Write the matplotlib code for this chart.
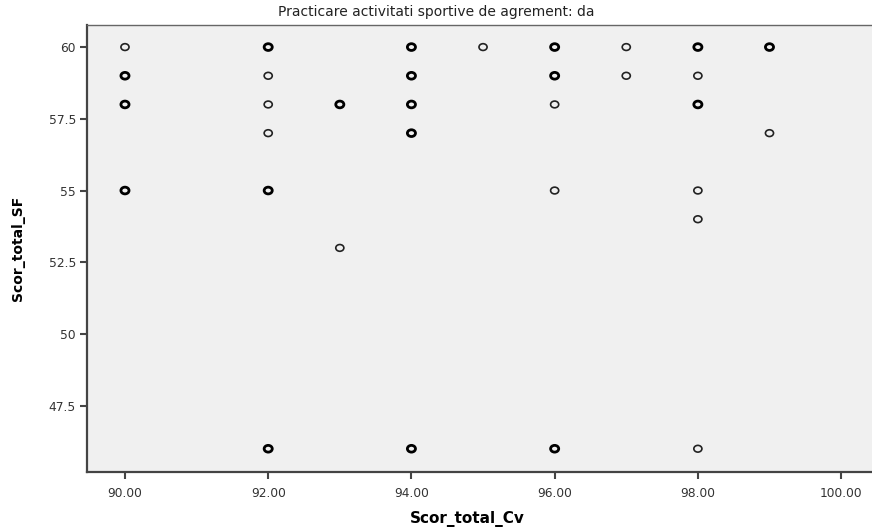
import matplotlib
matplotlib.use("Agg")
import matplotlib.pyplot as plt
from matplotlib.path import Path
from matplotlib.transforms import Affine2D
from collections import Counter

plt.rcParams['font.family'] = ['DejaVu Sans']

# DATA (repeated pairs = overlapping cases, drawn bolder)

scor_cv = [90, 90, 90, 90, 90, 90, 90,
           92, 92, 92, 92, 92, 92, 92, 92, 92,
           93, 93, 93,
           94, 94, 94, 94, 94, 94, 94, 94, 94, 94,
           95,
           96, 96, 96, 96, 96, 96, 96, 96,
           97, 97,
           98, 98, 98, 98, 98, 98, 98, 98,
           99, 99, 99]
scor_sf = [60, 59, 59, 58, 58, 55, 55,
           60, 60, 59, 58, 57, 55, 55, 46, 46,
           58, 58, 53,
           60, 60, 59, 59, 58, 58, 57, 57, 46, 46,
           60,
           60, 60, 59, 59, 58, 55, 46, 46,
           60, 59,
           60, 60, 59, 58, 58, 55, 54, 46,
           60, 60, 57]

title = "Practicare activitati sportive de agrement: da"
x_ticks = [90, 92, 94, 96, 98, 100]
y_ticks = [47.5, 50, 52.5, 55, 57.5, 60]
y_labels = ["47.5", "50", "52.5", "55", "57.5", "60"]

# PLOT

fig = plt.figure(figsize=(8.72, 5.27), dpi=100)
ax = fig.add_axes([0.0998, 0.1044, 0.905, 0.8482])
ax.set_facecolor("#f0f0f0")

# slightly wide open circle, like the SPSS marker
oval = Path.unit_circle().transformed(Affine2D().scale(1.2, 1.0))

counts = Counter(zip(scor_cv, scor_sf))
for (cx, sy), n in counts.items():
    ax.scatter([cx], [sy], s=34, marker=oval, facecolors="none",
               edgecolors="black" if n > 1 else "#222222",
               linewidths=2.0 if n > 1 else 1.2, zorder=3)

ax.set_xlim(89.47, 100.49)
ax.set_ylim(45.19, 60.77)
ax.set_xticks(x_ticks)
ax.set_xticklabels([f"{t:.2f}" for t in x_ticks])
ax.set_yticks(y_ticks)
ax.set_yticklabels(y_labels)
ax.tick_params(direction="out", length=5, width=1.5, color="#444444",
               labelsize=8.8, labelcolor="#333333", pad=3)
ax.tick_params(axis="x", pad=6)

for side in ["left", "bottom"]:
    ax.spines[side].set_color("#444444")
    ax.spines[side].set_linewidth(1.6)
ax.spines["top"].set_color("#666666")
ax.spines["top"].set_linewidth(1.0)
ax.spines["right"].set_visible(False)

ax.set_xlabel("Scor_total_Cv", fontsize=11, fontweight="bold")
ax.xaxis.set_label_coords(0.482, -0.105)
ax.set_ylabel("Scor_total_SF", fontsize=10, fontweight="bold")
ax.yaxis.set_label_coords(-0.0875, 0.5)
ax.xaxis.label.set_va("center")
ax.yaxis.label.set_va("center")
fig.text(0.5, 0.978, title, ha="center", va="center", fontsize=10, color="#222222")

fig.savefig("out.png", dpi=100)
